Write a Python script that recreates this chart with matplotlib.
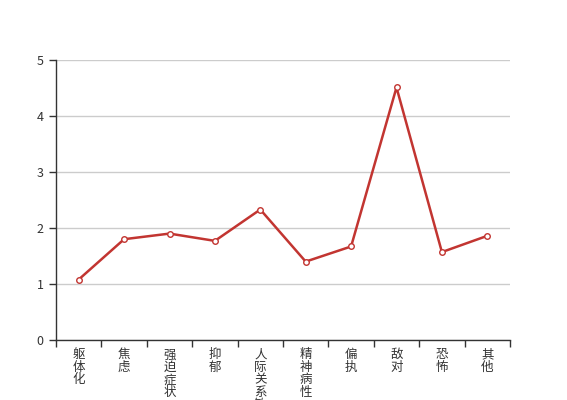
#!/usr/bin/env python3
# -*- coding: utf-8 -*-
"""

Line chart of factor scores.

"""

# Import packages
import matplotlib
matplotlib.use('Agg')
import matplotlib.pyplot as plt
import numpy as np

plt.rcParams['font.family'] = ['Noto Sans CJK SC', 'DejaVu Sans']

# Data
categories = ['躯体化', '焦虑', '强迫症状', '抑郁', '人际关系敏感',
              '精神病性', '偏执', '敌对', '恐怖', '其他']
scores = [1.08, 1.80, 1.90, 1.77, 2.33, 1.40, 1.67, 4.51, 1.57, 1.86]
y_ticks = [0, 1, 2, 3, 4, 5]

# Colours
c_line = '#c23531'
c_axis = '#333333'
c_grid = '#cccccc'

# Plot
fig = plt.figure(figsize=(5.67, 4), dpi=100)
ax1 = fig.add_axes([56 / 567, 60 / 400, 454 / 567, 280 / 400])

x = np.arange(len(categories))
ax1.plot(x, scores, color=c_line, lw=1.8, marker='o', markersize=4,
         markerfacecolor='white', markeredgecolor=c_line, markeredgewidth=1,
         zorder=3)

ax1.set_xlim(-0.5, len(categories) - 0.5)
ax1.set_ylim(0, 5)
ax1.set_yticks(y_ticks)
ax1.grid(True, axis='y', color=c_grid, lw=1, zorder=0)

# Category labels, one character per line (long one runs off the bottom as in the original)
ax1.set_xticks(x)
ax1.set_xticklabels(['\n'.join(c) for c in categories], fontsize=9,
                    color='#333333', va='top', linespacing=0.95)
ax1.tick_params(axis='x', which='major', length=0, pad=6)
ax1.set_xticks(np.arange(len(categories) + 1) - 0.5, minor=True)
ax1.tick_params(axis='x', which='minor', length=5, color=c_axis, width=1)
ax1.tick_params(axis='y', length=5, color=c_axis, width=1, labelsize=9,
                labelcolor='#333333', pad=4)

for s in ['top', 'right']:
    ax1.spines[s].set_visible(False)
for s in ['left', 'bottom']:
    ax1.spines[s].set_color(c_axis)
    ax1.spines[s].set_linewidth(1)

plt.savefig('out.png', dpi=100)
